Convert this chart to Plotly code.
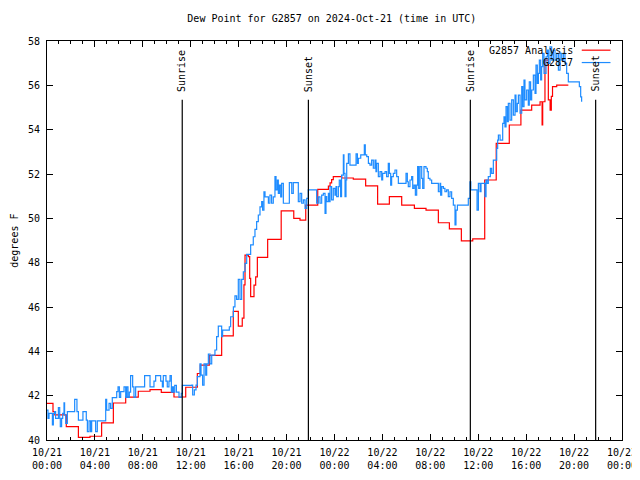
import plotly.graph_objects as go

# ---- data (hours since 2024-10-21 00:00 UTC) ----
analysis_hours = [0.0, 0.5, 0.65, 1.61, 2.62, 3.59, 4.56, 5.54, 6.57, 7.62, 8.60, 9.54, 10.60, 11.58,
                  12.55, 12.8, 13.55, 14.58, 15.55, 15.97, 16.3, 16.44, 16.53, 16.81, 16.92, 17.0,
                  17.28, 17.42, 17.56, 18.42, 19.55, 20.6, 21.12, 21.6, 22.6, 23.49, 23.63, 23.76,
                  23.90, 24.6, 25.57, 26.60, 27.60, 28.58, 29.61, 30.67, 31.64, 32.67, 33.59, 34.59,
                  35.54, 36.54, 37.5, 38.59, 39.56, 40.46, 41.16, 41.33, 41.38, 41.57, 41.85, 42.0,
                  42.1, 42.2, 42.55, 43.52]
analysis_values = [41.65, 41.28, 41.13, 40.6, 40.12, 40.17, 40.77, 41.67, 41.93, 42.2, 42.27, 42.15, 41.94, 42.38,
                   43.0, 43.38, 43.82, 44.7, 45.8, 45.14, 45.5, 47.0, 48.34, 48.27, 47.29, 46.47,
                   46.99, 47.36, 48.24, 49.05, 50.34, 50.0, 49.92, 50.6, 51.31, 51.45, 51.6, 51.75,
                   51.88, 51.82, 51.77, 51.46, 50.64, 50.98, 50.6, 50.45, 50.37, 49.8, 49.52, 48.98,
                   49.07, 51.73, 53.38, 54.21, 54.88, 55.11, 55.26, 54.21, 55.26, 57.14, 55.34, 54.88,
                   55.5, 55.94, 56.01, 56.01]

obs_hours = [0.0, 0.08, 0.17, 0.45, 0.53, 0.64, 0.72, 0.95, 1.06, 1.11, 1.22, 1.31, 1.42, 1.47, 1.56, 1.70,
             2.31, 2.50, 2.62, 3.0, 3.28, 3.37, 3.51, 3.64, 3.73, 4.06, 4.20, 4.90, 4.98, 5.18, 5.31, 5.45,
             5.82, 5.93, 6.04, 6.15, 6.43, 6.57, 6.65, 6.76, 6.87, 6.98, 7.15, 7.26, 7.40, 8.15, 8.60, 8.93,
             9.07, 9.49, 9.63, 9.71, 9.93, 10.04, 10.18, 10.27, 10.38, 10.46, 10.55, 10.66, 10.80, 11.02,
             11.21, 11.30,
             12.08, 12.16, 12.30, 12.44, 12.55, 12.77, 12.86, 12.99, 13.11, 13.25, 13.33, 13.47, 13.61,
             13.75, 14.02, 14.16, 14.30, 14.58, 14.66, 15.22, 15.33, 15.56, 15.69, 15.83, 15.97, 16.11,
             16.25, 16.39, 16.53, 16.67, 17.00, 17.22, 17.36,
             17.50, 17.64, 17.78, 17.92, 18.00, 18.11, 18.20, 18.48, 18.61, 18.75, 18.89, 19.03, 19.12,
             19.23, 19.31, 19.40, 19.51, 19.59, 19.73, 20.23, 20.43, 20.56, 20.98, 21.12, 21.26, 21.40,
             21.54, 21.68, 21.81, 22.51, 22.65, 22.79, 22.93, 23.07, 23.21,
             23.29, 23.35, 23.49, 23.57, 23.63, 23.76, 23.90, 24.04, 24.13, 24.18, 24.32, 24.40, 24.51,
             24.59, 24.74, 24.79, 24.88, 24.96, 25.02, 25.16, 25.29, 25.80, 25.91, 25.99, 26.19, 26.49,
             26.57, 26.69, 26.83, 26.96, 27.10, 27.24, 27.38, 27.46, 27.52, 27.66, 27.80, 27.94, 28.02,
             28.22, 28.35, 28.49, 28.58, 28.69, 28.77, 28.91, 29.05, 29.19, 29.33, 29.97, 30.08, 30.16,
             30.30, 30.44, 30.53, 30.64, 30.75, 30.86, 30.94, 31.03, 31.14, 31.28, 31.36, 31.47, 31.64,
             31.75, 31.83, 31.97, 32.11, 32.67, 32.81, 32.86, 32.95, 33.09, 33.22, 33.36, 33.50, 33.64,
             33.78, 33.92, 34.06, 34.14, 34.26, 35.17, 35.31, 35.38, 35.90, 36.01, 36.15, 36.23, 36.56,
             36.65, 36.73, 36.84, 37.01, 37.12, 37.26, 37.54, 37.62, 37.68, 37.82,
             38.04, 38.15, 38.23, 38.32, 38.43, 38.51, 38.65, 38.79, 38.93, 39.07, 39.15, 39.26, 39.35,
             39.49, 39.63, 39.71, 39.82, 39.90, 40.04, 40.18, 40.26, 40.37, 40.46, 40.60, 40.74, 40.82,
             40.93, 41.02, 41.10, 41.21, 41.29, 41.38, 41.49, 41.66, 41.77, 41.85, 41.99, 42.13, 42.27,
             42.41, 42.55, 42.69, 42.83, 42.97, 43.11, 43.24, 43.38, 43.52, 44.36, 44.44, 44.55, 44.63]
obs_values = [41.35, 40.98, 41.20, 40.68, 41.20, 41.28, 40.98, 41.46, 40.98, 40.60, 40.98, 41.20, 41.68, 41.13, 40.75, 41.28,
              41.83, 41.28, 40.90, 41.28, 40.90, 40.38, 40.86, 40.38, 40.86, 40.38, 40.86, 41.83, 41.35, 41.65, 41.43, 41.91,
              42.18, 42.40, 41.92, 42.18, 42.40, 41.92, 42.40, 41.92, 42.16, 42.90, 42.40, 41.92, 42.40, 42.90, 42.40, 42.66,
              42.90, 42.66, 42.40, 42.90, 42.66, 42.40, 42.66, 42.90, 42.16, 42.40, 42.16, 42.46, 42.16, 41.92,
              42.10, 42.46,
              42.48, 42.03, 42.26, 42.48, 42.86, 43.43, 42.93, 42.48, 43.43, 42.93, 43.43, 43.88, 43.43,
              43.83, 44.06, 44.66, 45.14, 44.66, 44.96, 45.11, 45.56, 46.01, 46.50, 46.34, 47.25, 46.34,
              47.25, 47.59, 47.97, 48.37, 48.80, 49.17, 49.50,
              49.85, 50.15, 50.52, 50.75, 50.37, 51.20, 50.97, 50.68, 51.05, 50.68, 50.97, 51.88, 51.28,
              51.73, 51.13, 51.50, 50.97, 51.58, 50.68, 51.61, 51.13, 51.61, 50.75, 51.13, 50.68, 50.83,
              50.45, 50.90, 51.28, 50.68, 50.97, 50.68, 51.05, 51.13, 50.22,
              50.98, 50.75, 51.13, 50.75, 51.43, 50.83, 51.35, 51.05, 51.43, 50.98, 51.43, 51.73, 50.98,
              51.95, 52.86, 52.03, 50.98, 51.73, 52.48, 52.91, 52.40, 52.91, 52.48, 52.71, 52.86, 53.31,
              52.86, 52.78, 52.48, 52.40, 52.63, 52.26, 52.63, 52.11, 52.48, 51.88, 52.11, 51.73, 52.03,
              52.11, 51.88, 52.48, 52.03, 51.50, 51.88, 52.03, 52.18, 51.88, 51.58, 52.03, 51.65, 51.43,
              51.73, 51.88, 51.35, 51.50, 51.05, 51.50, 52.33, 51.35, 52.33, 51.80, 51.35, 52.33, 52.26,
              52.11, 51.80, 51.73, 51.58, 51.20, 51.58, 51.05, 51.43, 51.35, 51.20, 51.28, 50.98, 51.20,
              50.90, 50.60, 49.70, 50.37, 50.60, 50.90, 51.65, 51.28, 50.37, 51.58, 51.20, 51.58, 50.98,
              51.73, 51.58, 51.88, 52.26, 52.03, 52.63, 53.16, 53.53, 53.76, 53.53,
              54.28, 54.58, 54.13, 55.04, 54.36, 55.19, 54.43, 55.34, 54.66, 55.56, 54.81, 55.19, 55.56,
              54.74, 55.94, 55.04, 56.24, 55.34, 55.79, 55.11, 56.16, 55.34, 55.79, 56.46, 55.64, 56.91,
              56.09, 56.54, 57.14, 56.24, 56.84, 57.44, 56.54, 57.29, 57.59, 56.99, 57.74, 57.14, 57.59,
              57.14, 57.44, 56.69, 57.44, 57.14, 57.44, 56.99, 56.54, 56.16, 56.16, 55.94, 55.48, 55.26]

sun_hours = [11.29, 21.82, 35.34, 45.80]
sun_labels = ["Sunrise", "Sunset", "Sunrise", "Sunset"]

x_tickvals = [0, 4, 8, 12, 16, 20, 24, 28, 32, 36, 40, 44, 48]
x_ticktext = ["10/21<br>00:00", "10/21<br>04:00", "10/21<br>08:00", "10/21<br>12:00", "10/21<br>16:00",
              "10/21<br>20:00", "10/22<br>00:00", "10/22<br>04:00", "10/22<br>08:00", "10/22<br>12:00",
              "10/22<br>16:00", "10/22<br>20:00", "10/23<br>00:00"]
y_tickvals = [40, 42, 44, 46, 48, 50, 52, 54, 56, 58]

series_names = ["G2857 Analysis", "G2857"]
series_colors = ["#ff0000", "#1e8cff"]

FONT = "DejaVu Sans Mono"

fig = go.Figure()
fig.add_trace(go.Scatter(x=analysis_hours, y=analysis_values, mode="lines", name=series_names[0],
                         line=dict(color=series_colors[0], width=1.2, shape="hv"), showlegend=False))
fig.add_trace(go.Scatter(x=obs_hours, y=obs_values, mode="lines", name=series_names[1],
                         line=dict(color=series_colors[1], width=1.2, shape="hv"), showlegend=False))

shapes = []
annotations = []
for h, lab in zip(sun_hours, sun_labels):
    shapes.append(dict(type="line", xref="x", yref="y", x0=h, x1=h, y0=40, y1=55.35,
                       line=dict(color="black", width=1.2)))
    annotations.append(dict(x=h, y=55.62, xref="x", yref="y", text=lab, textangle=-90,
                            showarrow=False, xanchor="center", yanchor="bottom",
                            font=dict(family=FONT, size=10, color="black")))

# legend (gnuplot style: text then line sample)
leg_y = [0.977, 0.946]
for name, col, yy in zip(series_names, series_colors, leg_y):
    annotations.append(dict(x=0.919, y=yy, xref="paper", yref="paper", text=name, showarrow=False,
                            xanchor="right", yanchor="middle",
                            font=dict(family=FONT, size=10, color="black")))
    shapes.append(dict(type="line", xref="paper", yref="paper", x0=0.930, x1=0.980, y0=yy, y1=yy,
                       line=dict(color=col, width=1.2)))

annotations.append(dict(x=-0.057, y=0.5, xref="paper", yref="paper", text="degrees F", textangle=-90,
                        showarrow=False, xanchor="center", yanchor="middle",
                        font=dict(family=FONT, size=10, color="black")))

# page has an 8px body margin, so the figure is sized/margined to compensate
fig.update_layout(
    width=640, height=464,
    margin=dict(l=39, r=26, t=33, b=32, pad=0, autoexpand=False),
    paper_bgcolor="white", plot_bgcolor="white",
    title=dict(text="Dew Point for G2857 on 2024-Oct-21 (time in UTC)", x=0.506, xanchor="center",
               y=0.9763, yanchor="middle", font=dict(family=FONT, size=10, color="black")),
    shapes=shapes, annotations=annotations,
    font=dict(family=FONT, size=10, color="black"),
)
fig.update_xaxes(range=[0, 48], tickvals=x_tickvals, ticktext=x_ticktext, ticks="inside", ticklen=6,
                 tickcolor="black", showline=True, linecolor="black", linewidth=1, mirror="allticks",
                 showgrid=False, zeroline=False, tickfont=dict(family=FONT, size=10), automargin=False,
                 ticklabelstandoff=3,
                 minor=dict(dtick=1, tick0=0, ticks="inside", ticklen=3, tickcolor="black", showgrid=False))
fig.update_yaxes(range=[40, 58], tickvals=y_tickvals, ticks="inside", ticklen=6, tickcolor="black",
                 showline=True, linecolor="black", linewidth=1, mirror="allticks", showgrid=False,
                 zeroline=False, tickfont=dict(family=FONT, size=10), ticklabelstandoff=4, automargin=False)

fig.write_html("out.html")
